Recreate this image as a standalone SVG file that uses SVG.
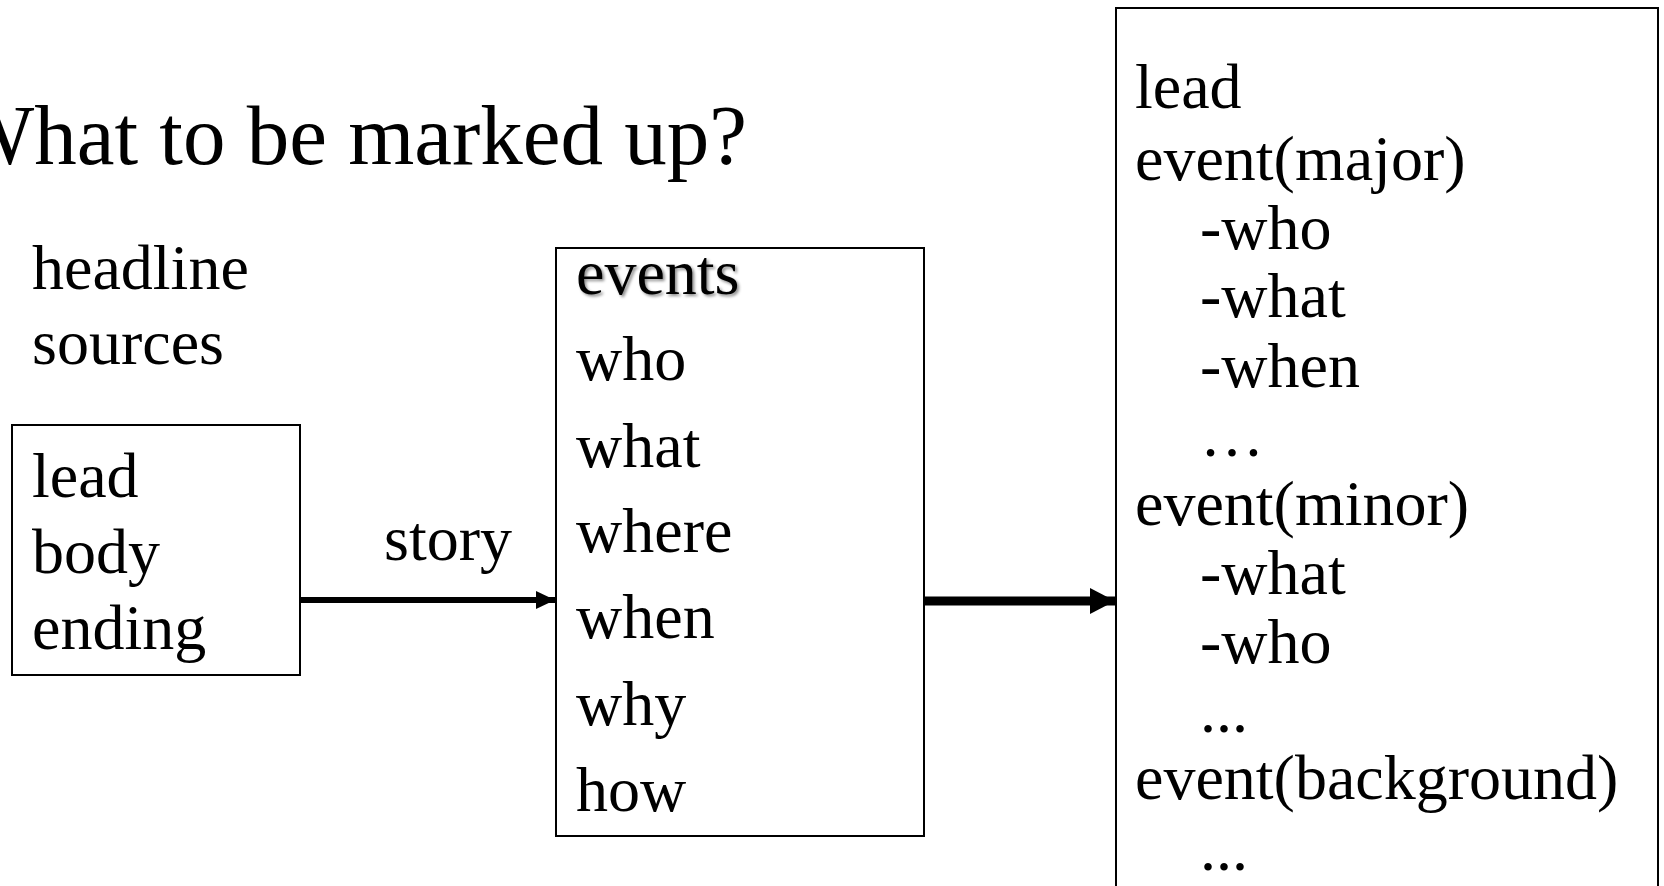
<svg xmlns="http://www.w3.org/2000/svg" width="1664" height="886" viewBox="0 0 1664 886">
<style>
text{font-family:"Liberation Serif","Times New Roman",serif;fill:#000;}
.t{font-size:64px;}
.title{font-size:85px;}
.box{fill:#fff;stroke:#000;stroke-width:2;}
</style>
<defs>
<marker id="ah1" markerUnits="userSpaceOnUse" markerWidth="20" markerHeight="20" refX="19" refY="9" orient="auto"><path d="M0,0 L19,9 L0,18 Z" fill="#000"/></marker>
<marker id="ah2" markerUnits="userSpaceOnUse" markerWidth="26" markerHeight="28" refX="25" refY="13" orient="auto"><path d="M0,0 L25,13 L0,26 Z" fill="#000"/></marker>
<filter id="shadow" x="-10%" y="-20%" width="130%" height="150%"><feDropShadow dx="2" dy="2" stdDeviation="1.5" flood-color="#000" flood-opacity="0.45"/></filter>
</defs>
<rect width="1664" height="886" fill="#fff"/>
<text class="title" x="-46" y="164">What to be marked up?</text>
<g id="headline"><text class="t" x="32" y="289">headline</text></g>
<g id="sources"><text class="t" x="32" y="364">sources</text></g>
<g id="structure">
<rect class="box" x="12" y="425" width="288" height="250"/>
<text class="t" x="32" y="497">lead</text>
<text class="t" x="32" y="573">body</text>
<text class="t" x="32" y="649">ending</text>
</g>
<g id="elements">
<rect class="box" x="556" y="248" width="368" height="588"/>
<text class="t" x="576" y="294" filter="url(#shadow)">events</text>
<text class="t" x="576" y="380">who</text>
<text class="t" x="576" y="467">what</text>
<text class="t" x="576" y="552">where</text>
<text class="t" x="576" y="638">when</text>
<text class="t" x="576" y="725">why</text>
<text class="t" x="576" y="811">how</text>
</g>
<g id="result">
<rect class="box" x="1116" y="8" width="542" height="890"/>
<text class="t" x="1135" y="108">lead</text>
<text class="t" x="1135" y="180">event(major)</text>
<text class="t" x="1200" y="249">-who</text>
<text class="t" x="1200" y="317">-what</text>
<text class="t" x="1200" y="387">-when</text>
<text class="t" x="1200" y="456">…</text>
<text class="t" x="1135" y="525">event(minor)</text>
<text class="t" x="1200" y="594">-what</text>
<text class="t" x="1200" y="663">-who</text>
<text class="t" x="1200" y="732">...</text>
<text class="t" x="1135" y="799">event(background)</text>
<text class="t" x="1200" y="870">...</text>
</g>
<g id="connectors">
<line x1="300" y1="600" x2="555" y2="600" stroke="#000" stroke-width="6" marker-end="url(#ah1)"/>
<text class="t" x="384" y="560">story</text>
<line x1="924" y1="601" x2="1115" y2="601" stroke="#000" stroke-width="9" marker-end="url(#ah2)"/>
</g>
</svg>
